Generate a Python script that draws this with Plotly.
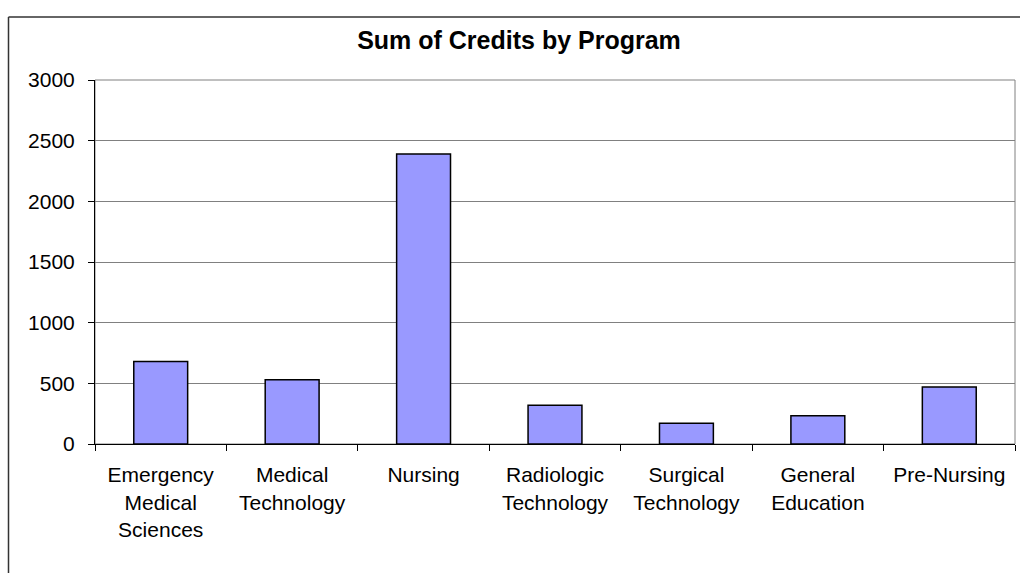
import plotly.graph_objects as go

programs = ["Emergency<br>Medical<br>Sciences", "Medical<br>Technology", "Nursing",
            "Radiologic<br>Technology", "Surgical<br>Technology", "General<br>Education", "Pre-Nursing"]
credits = [680, 530, 2390, 320, 170, 233, 469]
y_ticks = [0, 500, 1000, 1500, 2000, 2500, 3000]

W, H = 1020, 573
L, T = 95, 80
R = W - 1015
B = H - 444
pw, ph = W - L - R, H - T - B

fig = go.Figure(go.Bar(
    x=programs, y=credits,
    marker=dict(color="#9999FF", line=dict(color="black", width=1.5)),
))

def px_x(p):
    return (p - L) / pw

def px_y(p):
    return (H - B - p) / ph

fig.update_layout(
    width=W, height=H,
    margin=dict(l=L, r=R, t=T, b=B),
    paper_bgcolor="white", plot_bgcolor="white",
    bargap=0.59,
    font=dict(family="Liberation Sans, Arial, sans-serif", size=21, color="black"),
    title=dict(text="<b>Sum of Credits by Program</b>", x=519 / W, xanchor="center",
               y=1 - 40 / H, yanchor="middle", yref="container",
               font=dict(size=25, color="black")),
    showlegend=False,
    shapes=[
        dict(type="rect", xref="paper", yref="paper", x0=0, x1=1, y0=0, y1=1,
             line=dict(color="#808080", width=1), layer="below"),
        dict(type="line", xref="paper", yref="paper", x0=px_x(8.5), x1=px_x(8.5),
             y0=px_y(17), y1=px_y(580), line=dict(color="#333333", width=1.5)),
        dict(type="line", xref="paper", yref="paper", x0=px_x(8.5), x1=px_x(1030),
             y0=px_y(17), y1=px_y(17), line=dict(color="#333333", width=1.5)),
    ],
)

fig.update_xaxes(
    showline=True, linecolor="black", linewidth=1,
    ticks="outside", ticklen=6, tickcolor="black", tickson="boundaries",
    ticklabelstandoff=12, showgrid=False, tickangle=0,
)
fig.update_yaxes(
    range=[0, 3000], tickvals=y_ticks,
    showline=True, linecolor="black", linewidth=1,
    ticks="outside", ticklen=6, tickcolor="black",
    ticklabelstandoff=9,
    showgrid=True, gridcolor="#808080", gridwidth=1, zeroline=False,
)

fig.write_html(
    "out.html",
    config={"displayModeBar": False},
    post_script="document.body.style.margin='0';document.body.style.overflow='hidden';",
)
